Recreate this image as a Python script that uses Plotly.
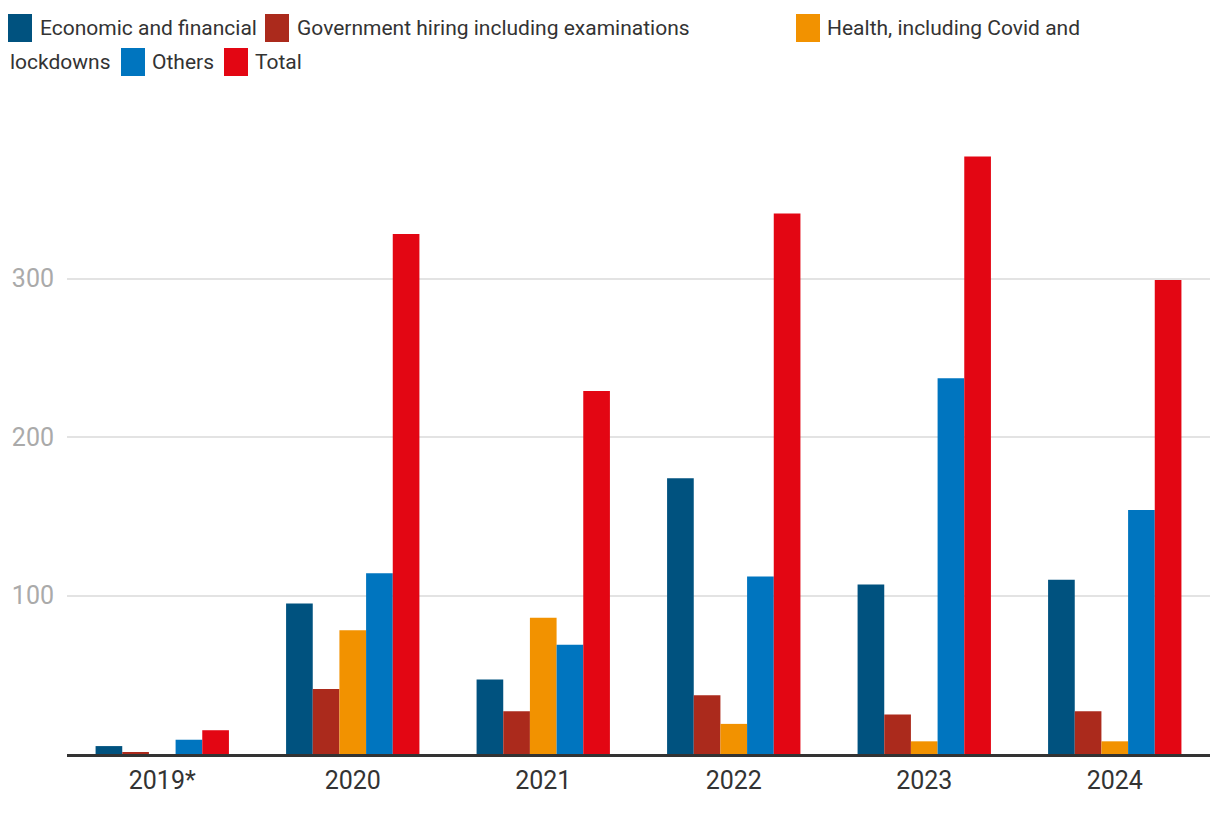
import plotly.graph_objects as go

years = ["2019*", "2020", "2021", "2022", "2023", "2024"]
economic = [5, 95, 47, 174, 107, 110]
government = [1, 41, 27, 37, 25, 27]
health = [0, 78, 86, 19, 8, 8]
others = [9, 114, 69, 112, 237, 154]
total = [15, 328, 229, 341, 377, 299]

series_names = ["Economic and financial", "Government hiring including examinations",
                "Health, including Covid and lockdowns", "Others", "Total"]
series_values = [economic, government, health, others, total]
colors = ["#00527f", "#ab2a1c", "#f29200", "#0075bf", "#e30613"]

# the page body adds an 8px offset; figure sized to fit the window
OFF = 8
W, H = 1220 - OFF, 816 - OFF
L, R, T, B = 67 - OFF, 10, 120 - OFF, 62
PW, PH = W - L - R, H - T - B

fig = go.Figure()
for name, vals, col in zip(series_names, series_values, colors):
    fig.add_trace(go.Bar(x=years, y=vals, name=name, marker=dict(color=col, line=dict(width=0)),
                         showlegend=False))

FONT = "Roboto"

def px_x(p):
    return (p - OFF - L) / PW

def px_y(p):
    return (H - B - (p - OFF)) / PH

# manual legend (layout only), in screenshot pixel coordinates
legend_items = [
    (8, 14, "Economic and financial", 38, 28, colors[0]),
    (265, 14, "Government hiring including examinations", 295, 28, colors[1]),
    (796, 14, "Health, including Covid and", 825, 28, colors[2]),
    (121, 48, "Others", 150, 62, colors[3]),
    (224, 48, "Total", 253, 62, colors[4]),
]
shapes = []
annotations = []
for sx, sy, label, tx, ty, col in legend_items:
    shapes.append(dict(type="rect", xref="paper", yref="paper",
                       x0=px_x(sx), x1=px_x(sx + 24), y0=px_y(sy + 28), y1=px_y(sy),
                       fillcolor=col, line=dict(width=0)))
    annotations.append(dict(xref="paper", yref="paper", x=px_x(tx), y=px_y(ty),
                            xanchor="left", yanchor="middle", text=label, showarrow=False,
                            font=dict(family=FONT, size=21, color="#333333")))
annotations.append(dict(xref="paper", yref="paper", x=px_x(8), y=px_y(62),
                        xanchor="left", yanchor="middle", text="lockdowns", showarrow=False,
                        font=dict(family=FONT, size=21, color="#333333")))

fig.update_layout(
    width=W, height=H,
    margin=dict(l=L, r=R, t=T, b=B, autoexpand=False),
    paper_bgcolor="white", plot_bgcolor="white",
    barmode="group", bargap=0.3, bargroupgap=0,
    font=dict(family=FONT, color="#333333"),
    shapes=shapes, annotations=annotations,
    xaxis=dict(showgrid=False, showline=True, linecolor="#333333", linewidth=2.5, automargin=False,
               ticks="", tickfont=dict(size=25, color="#333333"), ticklabelstandoff=2),
    yaxis=dict(range=[0, 400], tickvals=[100, 200, 300], showgrid=True, gridcolor="#e3e3e3",
               gridwidth=1.5, zeroline=False, showline=False, ticks="", automargin=False,
               tickfont=dict(size=25, color="#aaaaaa"), ticklabelstandoff=12),
)

fig.write_html("out.html")
